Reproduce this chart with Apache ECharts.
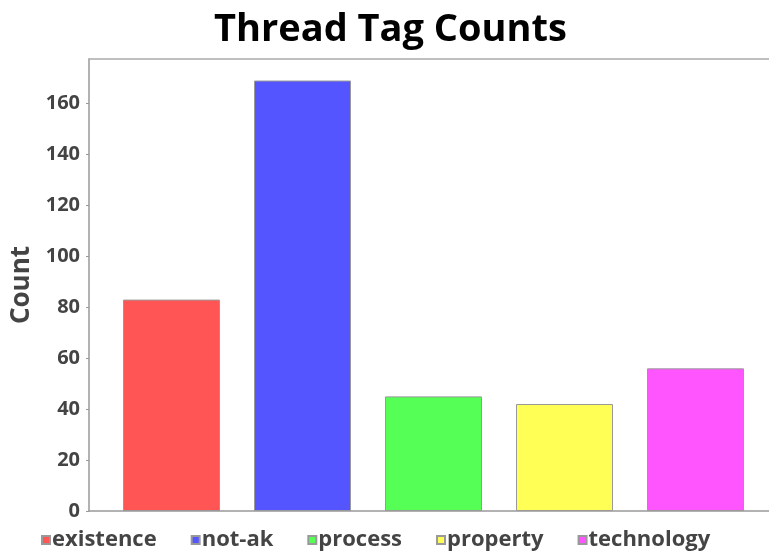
<!DOCTYPE html>
<html>
<head>
<meta charset="utf-8">
<script src="https://cdn.jsdelivr.net/npm/echarts@6/dist/echarts.min.js"></script>
<style>html,body{margin:0;padding:0;background:#fff;}#c{width:769px;height:551px;}</style>
</head>
<body>
<div id="c"></div>
<script>
const categories = ['existence', 'not-ak', 'process', 'property', 'technology'];
const counts = [83, 169, 45, 42, 56];
const colors = ['#ff5555', '#5555ff', '#55ff55', '#ffff55', '#ff55ff'];

const FONT = '"Open Sans", sans-serif';
const TXT = '#444';
const chart = echarts.init(document.getElementById('c'), null, {renderer: 'canvas'});

const series = categories.map((name, i) => ({
  name: name,
  type: 'bar',
  xAxisIndex: 0,
  yAxisIndex: 0,
  barWidth: 97,
  barGap: '-100%',
  itemStyle: {color: colors[i], borderColor: '#999', borderWidth: 1},
  data: categories.map((c, j) => j === i ? counts[j] : '-'),
  animation: false
}));

chart.setOption({
  backgroundColor: '#fff',
  animation: false,
  title: {
    text: 'Thread Tag Counts',
    left: 209,
    top: 6,
    textStyle: {fontFamily: FONT, fontWeight: 'bold', fontSize: 38, color: '#000'}
  },
  legend: {
    data: categories,
    left: 36,
    top: 524,
    icon: 'rect',
    itemWidth: 8,
    itemHeight: 8,
    itemGap: 34,
    textStyle: {fontFamily: FONT, fontWeight: 'bold', fontSize: 22, color: TXT, padding: [0, 0, 0, -3]}
  },
  grid: [
    {left: 106, right: 8, top: 59, bottom: 40},
    {left: 89, right: 0, top: 59, bottom: 40}
  ],
  xAxis: [
    {
      type: 'category', gridIndex: 0, data: categories,
      axisLine: {show: false}, axisTick: {show: false}, axisLabel: {show: false}
    },
    {
      type: 'value', gridIndex: 1, min: 0, max: 1, position: 'bottom',
      axisLine: {show: true, lineStyle: {color: '#999', width: 1.5}},
      axisTick: {show: false}, axisLabel: {show: false}, splitLine: {show: false}
    },
    {
      type: 'value', gridIndex: 1, min: 0, max: 1, position: 'top',
      axisLine: {show: true, lineStyle: {color: '#aaa', width: 1.5}},
      axisTick: {show: false}, axisLabel: {show: false}, splitLine: {show: false}
    }
  ],
  yAxis: [
    {
      type: 'value', gridIndex: 0, min: 0, max: 177.45, interval: 20, offset: 17,
      name: 'Count', nameLocation: 'middle', nameGap: 50, nameRotate: 90,
      nameTextStyle: {fontFamily: FONT, fontWeight: 'bold', fontSize: 26, color: TXT},
      axisLine: {show: true, lineStyle: {color: '#999', width: 1.5}},
      axisTick: {show: true, length: 3, lineStyle: {color: '#999'}},
      axisLabel: {showMaxLabel: false, margin: 9, fontFamily: FONT, fontWeight: 'bold', fontSize: 20, color: TXT},
      splitLine: {show: false}
    },
    {
      type: 'value', gridIndex: 1, min: 0, max: 1, show: false
    }
  ],
  series: series
});
</script>
</body>
</html>
